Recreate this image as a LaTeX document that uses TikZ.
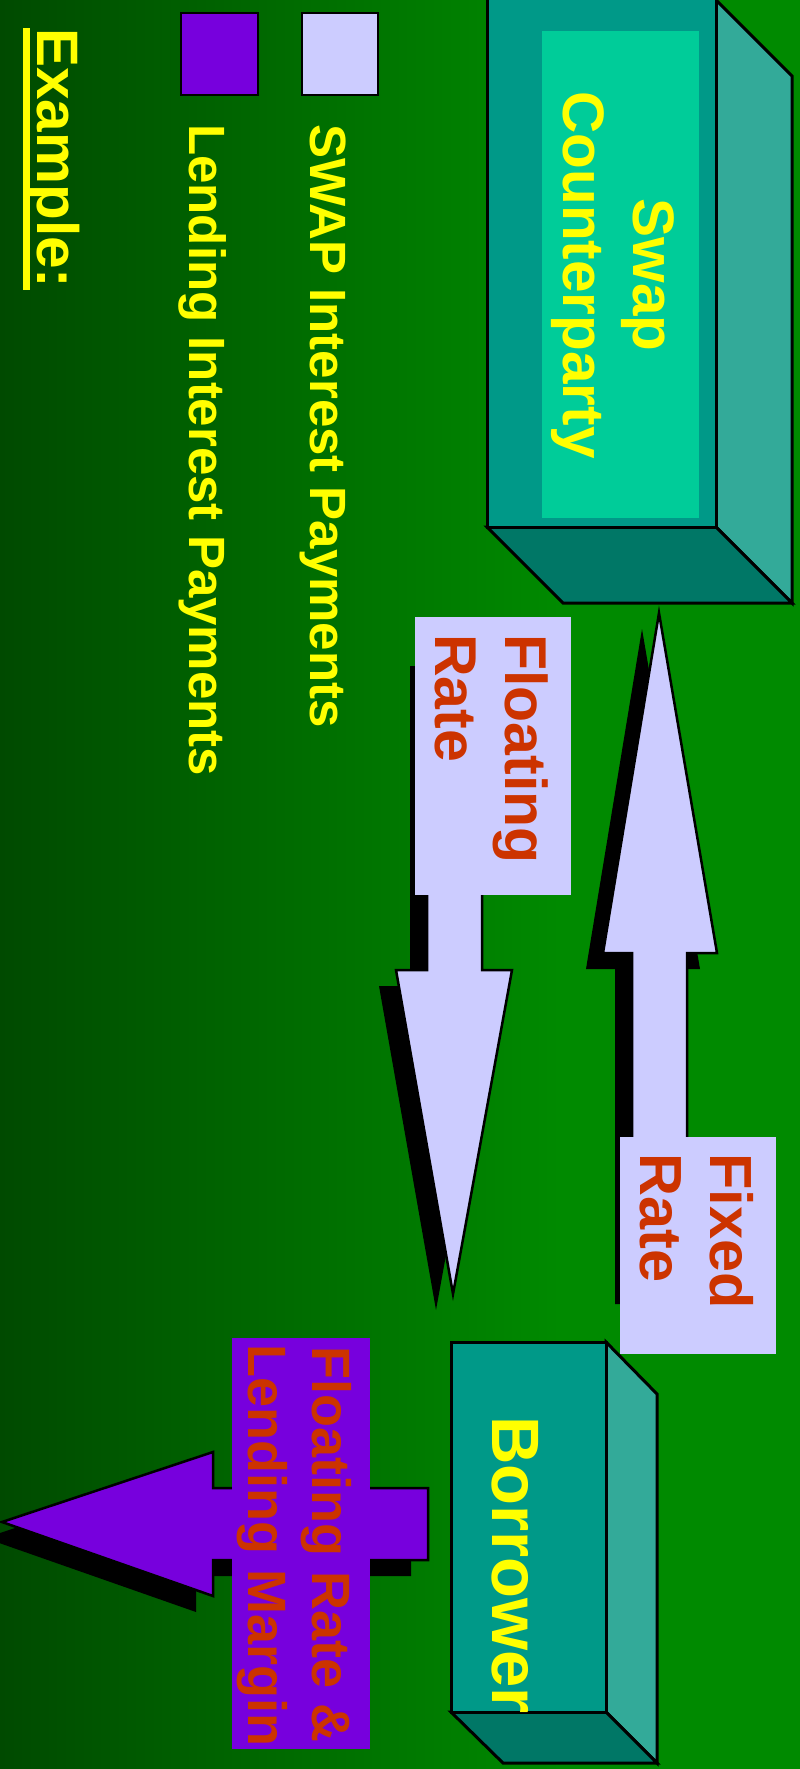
\documentclass[tikz,border=0pt]{standalone}
\usepackage{fontspec}
\setmainfont{Liberation Sans}
\definecolor{bgdark}{HTML}{004A00}
\definecolor{bglight}{HTML}{008A00}
\definecolor{facefront}{HTML}{009988}
\definecolor{faceinner}{HTML}{00CC99}
\definecolor{faceside}{HTML}{33AA99}
\definecolor{facebottom}{HTML}{007766}
\definecolor{swaplav}{HTML}{CCCCFF}
\definecolor{lendpurple}{HTML}{7700DD}
\definecolor{ratered}{HTML}{CC3300}
\definecolor{txtyellow}{HTML}{FFFF00}
\tikzset{
  vtext/.style={rotate=-90, inner sep=0pt, anchor=base west, font=\bfseries},
  boxface/.style={draw=black, line width=3pt, line join=miter},
  blockarrow/.style={draw=black, line width=2.5pt, line join=miter},
  arrowshadow/.style={fill=black, shift={(-17,16)}},
  legendkey/.style={draw=black, line width=2.5pt},
}
\newcommand{\fsz}[1]{\fontsize{#1}{#1}\selectfont}
\begin{document}
\begin{tikzpicture}[x=1pt, y=-1pt]
\useasboundingbox (0,0) rectangle (800,1769);
% background
\shade[left color=bgdark, right color=bglight] (0,0) rectangle (560,1769);
\fill[bglight] (559,0) rectangle (800,1769);

% Swap counterparty block
\filldraw[boxface, fill=faceside] (716,0) -- (792,76) -- (792,603) -- (716,527) -- cycle;
\filldraw[boxface, fill=facebottom] (487,527) -- (563,603) -- (792,603) -- (716,527) -- cycle;
\filldraw[boxface, fill=facefront] (487,-2) rectangle (716,527);
\fill[faceinner] (542,31) rectangle (699,518);
\node[vtext, anchor=base, text=txtyellow, font=\bfseries\fsz{58.5}] (swapA) at (633,275) {Swap};
\node[vtext, anchor=base, text=txtyellow, font=\bfseries\fsz{58.5}] (swapB) at (563,275) {Counterparty};

% Borrower block
\filldraw[boxface, fill=faceside] (606,1342) -- (657,1394) -- (657,1763) -- (606,1712) -- cycle;
\filldraw[boxface, fill=facebottom] (451,1712) -- (503,1763) -- (657,1763) -- (606,1712) -- cycle;
\filldraw[boxface, fill=facefront] (451,1342) rectangle (606,1712);
\begin{scope}
  \clip (451,1342) rectangle (606,1712);
  \node[vtext, text=txtyellow, font=\bfseries\fsz{67}] (borrower) at (492,1416) {Borrower};
\end{scope}

% fixed rate payment: borrower to swap counterparty
\fill[arrowshadow] (632,1288) -- (632,953) -- (603,953) -- (659,613) -- (717,953) -- (687,953) -- (687,1288) -- cycle;
\filldraw[blockarrow, fill=swaplav] (632,1288) -- (632,953) -- (603,953) -- (659,613) -- (717,953) -- (687,953) -- (687,1288) -- cycle;
\fill[swaplav] (620,1137) rectangle (776,1354);
\node[vtext, text=ratered, font=\bfseries\fsz{59.5}] (fixA) at (710,1153) {Fixed};
\node[vtext, text=ratered, font=\bfseries\fsz{59.5}] (fixB) at (640,1153) {Rate};

% floating rate payment: swap counterparty to borrower
\fill[arrowshadow] (427,650) -- (482,650) -- (482,970) -- (512,970) -- (453,1294) -- (396,970) -- (427,970) -- cycle;
\filldraw[blockarrow, fill=swaplav] (427,650) -- (482,650) -- (482,970) -- (512,970) -- (453,1294) -- (396,970) -- (427,970) -- cycle;
\fill[swaplav] (415,617) rectangle (571,895);
\node[vtext, text=ratered, font=\bfseries\fsz{59}] (floatA) at (505,634) {Floating};
\node[vtext, text=ratered, font=\bfseries\fsz{59}] (floatB) at (435,634) {Rate};

% lending interest payment from borrower
\fill[arrowshadow] (428,1488) -- (213,1488) -- (213,1452) -- (2,1522) -- (213,1596) -- (213,1560) -- (428,1560) -- cycle;
\filldraw[blockarrow, fill=lendpurple] (428,1488) -- (213,1488) -- (213,1452) -- (2,1522) -- (213,1596) -- (213,1560) -- (428,1560) -- cycle;
\fill[lendpurple] (232,1338) rectangle (370,1749);
\node[vtext, text=ratered, font=\bfseries\fsz{54}] (lendA) at (312,1346) {Floating Rate \&};
\node[vtext, text=ratered, font=\bfseries\fsz{54}] (lendB) at (248,1344) {Lending Margin};

% legend
\filldraw[legendkey, fill=swaplav] (302,13) rectangle (378,95);
\filldraw[legendkey, fill=lendpurple] (181,13) rectangle (258,95);
\node[vtext, text=txtyellow, font=\bfseries\fsz{51}] (legA) at (310,124) {SWAP Interest Payments};
\node[vtext, text=txtyellow, font=\bfseries\fsz{51}] (legB) at (189,124) {Lending Interest Payments};

% example heading
\node[vtext, text=txtyellow, font=\bfseries\fsz{58.5}] (example) at (37,28) {Example:};
\fill[txtyellow] (23,28) rectangle (30,290);
\end{tikzpicture}
\end{document}
